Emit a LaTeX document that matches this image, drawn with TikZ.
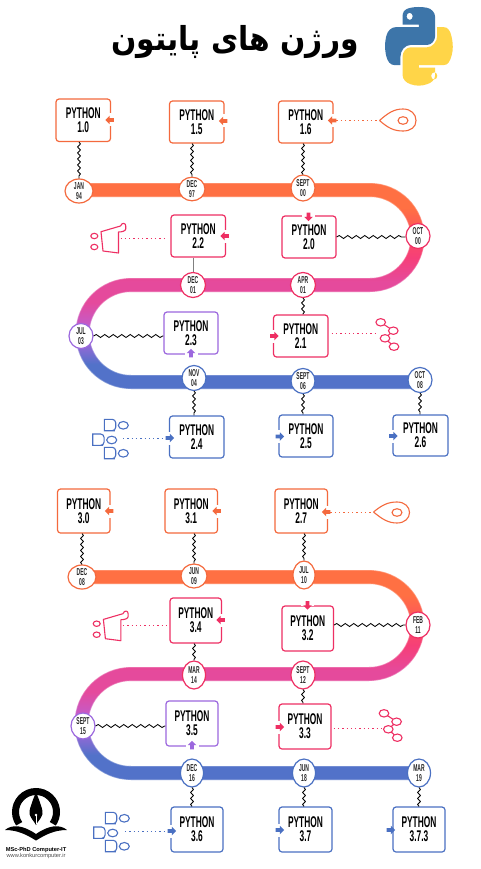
\documentclass[tikz,border=0pt]{standalone}
\usepackage{fontspec}
\usetikzlibrary{shapes.geometric,shapes.arrows,decorations.pathmorphing,svg.path,calc}
\TeXXeTstate=1
\newfontfamily\arabicfont[Script=Arabic,FakeStretch=0.9]{DejaVu Sans}
\newfontfamily\pyfont[FakeStretch=0.54]{Liberation Sans}
\newfontfamily\dtfont[FakeStretch=0.5]{Liberation Sans}
\setsansfont{Liberation Sans}
\definecolor{cor}{HTML}{F4693D}
\definecolor{cpk}{HTML}{EE2F63}
\definecolor{cpu}{HTML}{9C68DE}
\definecolor{cbl}{HTML}{4A70C2}
\definecolor{rbl}{HTML}{5272C9}
\definecolor{rpb}{HTML}{8A6AD4}
\definecolor{rpu}{HTML}{BA60D6}
\definecolor{rmg}{HTML}{E54A9C}
\definecolor{rpk}{HTML}{F63F78}
\definecolor{rrd}{HTML}{FC4E60}
\definecolor{ror}{HTML}{FF7043}
\definecolor{pyb}{HTML}{3D75A9}
\definecolor{pyy}{HTML}{FFD548}
\pgfdeclareverticalshading{ribbonsh}{100bp}{color(0bp)=(rbl); color(31bp)=(rbl); color(35bp)=(rpb); color(39bp)=(rpu); color(46bp)=(rmg); color(51bp)=(rmg); color(57bp)=(rpk); color(62bp)=(rrd); color(69bp)=(ror); color(100bp)=(ror)}
\tikzset{
 pybox/.style={draw=#1,fill=white,rectangle,rounded corners=3pt,line width=1.2pt,inner sep=0pt,align=center,
   font=\pyfont\bfseries\fontsize{15.5}{14}\selectfont},
 dtnode/.style={draw=#1,fill=white,ellipse,line width=1.2pt,inner sep=0pt,align=center,
   font=\dtfont\bfseries\fontsize{10}{9.6}\selectfont,text=black!85},
 wvv/.style={decorate,decoration={snake,amplitude=1.4pt,segment length=6pt},line width=.85pt,black},
 wvh/.style={decorate,decoration={snake,amplitude=1.5pt,segment length=8.5pt},line width=.85pt,black},
 dots/.style={draw=#1,line width=.9pt,dash pattern=on 1.3pt off 3pt},
 tipnode/.style={single arrow,fill=#1,inner xsep=0pt,inner ysep=1.6pt,minimum height=8.5pt,minimum width=8.5pt,single arrow head extend=2.2pt,single arrow tip angle=90},
 gapnode/.style={fill=white,inner sep=0pt,minimum width=3.5pt,minimum height=13pt},
 ico/.style={draw=#1,line width=1.1pt,fill=none},
 ribedge/.style={draw=white,draw opacity=.3,line width=1.2pt},
}
\newcommand{\pybx}[7]{\node[pybox=#6,minimum width={(#4-#2)*1pt},minimum height={(#5-#3)*1pt}] (#1) at ({(#2+#4)/2},{(#3+#5)/2}) {PYTHON\\#7};}
\newcommand{\pydt}[7]{\node[dtnode=#6,minimum width={2*#4*1pt},minimum height={2*#5*1pt}] (#1) at (#2,#3) {#7};}
\newcommand{\pyar}[5]{\node[gapnode,rotate=#4] at (#2,#3) {};\node[tipnode=#5,rotate=#4] (#1) at (#2,#3) {};}
\def\ribA{(78,183) -- (370,183) .. controls (400.1,183) and (424.5,207.4) .. (424.5,237.5) .. controls (424.5,267.6) and (400.1,292) .. (370,292) -- (131,292) .. controls (108.1,292) and (89.5,310.6) .. (89.5,333.5) .. controls (89.5,356.4) and (108.1,375) .. (131,375) -- (420,375) -- (420,389) -- (131,389) .. controls (100.3,389) and (75.5,364.2) .. (75.5,333.5) .. controls (75.5,302.8) and (100.3,278) .. (131,278) -- (370,278) .. controls (392.4,278) and (410.5,259.9) .. (410.5,237.5) .. controls (410.5,215.1) and (392.4,197) .. (370,197) -- (78,197) -- cycle}
\def\ribB{(82,570) -- (369,570) .. controls (399.7,570) and (424.5,594.8) .. (424.5,625.5) .. controls (424.5,656.2) and (399.7,681) .. (369,681) -- (131,681) .. controls (107.5,681) and (88.5,700) .. (88.5,723.5) .. controls (88.5,747) and (107.5,766) .. (131,766) -- (420,766) -- (420,780) -- (131,780) .. controls (99.8,780) and (74.5,754.7) .. (74.5,723.5) .. controls (74.5,692.3) and (99.8,667) .. (131,667) -- (369,667) .. controls (391.9,667) and (410.5,648.4) .. (410.5,625.5) .. controls (410.5,602.6) and (391.9,584) .. (369,584) -- (82,584) -- cycle}
\begin{document}
\begin{tikzpicture}[x=1pt,y=-1pt]
\useasboundingbox (0,0) rectangle (480,869);
\fill[white] (0,0) rectangle (480,869);
% ribbons
\shade[shading=ribbonsh] \ribA;
\draw[ribedge] \ribA;
\shade[shading=ribbonsh] \ribB;
\draw[ribedge] \ribB;
% title
\node[font=\arabicfont\bfseries\fontsize{33}{40}\selectfont,inner sep=0pt] (title) at (235,42) {\beginR ورژن های پایتون\endR};
% python logo
\begin{scope}[shift={(385,7)},xscale=.61,yscale=-.70]
\fill[pyb,even odd rule] svg {M 54.918785,0.0009 C 50.335132,0.02221727 45.957846,0.41313697 42.106285,1.0946693 30.760069,3.0991731 28.700036,7.2947714 28.700035,15.032169 v 10.21875 h 26.8125 v 3.40625 h -26.8125 -10.0625 c -7.792459,0 -14.6157588,4.683717 -16.7499998,13.59375 -2.46181998,10.212966 -2.57101508,16.586023 0,27.25 1.9059283,7.937852 6.4575432,13.593748 14.2499998,13.59375 h 9.21875 v -12.25 c 0,-8.849902 7.657144,-16.656248 16.75,-16.65625 h 26.78125 c 7.454951,0 13.406253,-6.138164 13.40625,-13.625 v -25.53125 c 0,-7.2663386 -6.12998,-12.7247771 -13.40625,-13.9374997 C 64.281548,0.32794397 59.502438,-0.02037903 54.918785,0.0009 Z m -14.5,8.21875 c 2.769547,0 5.03125,2.2986456 5.03125,5.1249996 0,2.816336 -2.261703,5.09375 -5.03125,5.09375 -2.779476,0 -5.03125,-2.277415 -5.03125,-5.09375 0,-2.826353 2.251774,-5.1249996 5.03125,-5.1249996 Z};
\fill[pyy,even odd rule] svg {M 85.637535,28.657169 v 11.90625 c 0,9.230755 -7.825895,16.999999 -16.75,17 h -26.78125 c -7.335833,0 -13.406249,6.278483 -13.40625,13.625 v 25.531247 c 0,7.266344 6.318588,11.540324 13.40625,13.625004 8.487331,2.49561 16.626237,2.94663 26.78125,0 6.750155,-1.95439 13.406253,-5.88761 13.40625,-13.625004 v -10.21875 h -26.78125 v -3.40625 h 26.78125 13.406254 c 7.792461,0 10.696251,-5.435408 13.406241,-13.59375 2.79933,-8.398886 2.68022,-16.475776 0,-27.25 -1.92578,-7.757441 -5.60387,-13.59375 -13.406241,-13.59375 Z m -15.0625,64.65625 c 2.779478,0 5.03125,2.277417 5.03125,5.093747 0,2.826354 -2.251775,5.125004 -5.03125,5.125004 -2.76955,0 -5.03125,-2.29865 -5.03125,-5.125004 0,-2.81633 2.2617,-5.093747 5.03125,-5.093747 Z};
\end{scope}
% boxes group 1
\pybx{b10}{56}{99}{110.5}{141.5}{cor}{1.0}
\pybx{b15}{169.5}{101}{224}{143}{cor}{1.5}
\pybx{b16}{278.5}{101}{333}{143}{cor}{1.6}
\pybx{b22}{171}{215}{225.5}{257}{cpk}{2.2}
\pybx{b20}{282}{216}{336}{258}{cpk}{2.0}
\pybx{b23}{164}{312}{218}{354}{cpu}{2.3}
\pybx{b21}{273.5}{315}{328}{357}{cpk}{2.1}
\pybx{b24}{169.5}{416}{224}{458}{cbl}{2.4}
\pybx{b25}{279}{415}{333}{457}{cbl}{2.5}
\pybx{b26}{393}{415}{448}{456}{cbl}{2.6}
% boxes group 2
\pybx{b30}{57.5}{489}{110}{533}{cor}{3.0}
\pybx{b31}{165}{489}{217.5}{533}{cor}{3.1}
\pybx{b27}{275}{489}{327.5}{533}{cor}{2.7}
\pybx{b34}{170}{598}{221.5}{643}{cpk}{3.4}
\pybx{b32}{282}{606}{333.5}{651}{cpk}{3.2}
\pybx{b35}{166}{701}{218}{746}{cpu}{3.5}
\pybx{b33}{279}{704}{331}{749}{cpk}{3.3}
\pybx{b36}{171}{807}{223}{852}{cbl}{3.6}
\pybx{b37}{279}{807}{332}{852}{cbl}{3.7}
\pybx{b373}{393}{807}{445}{852}{cbl}{3.7.3}
% dates group 1
\pydt{d1}{79}{191}{14}{12}{cor}{JAN\\94}
\pydt{d2}{192}{189}{13}{11}{cor}{DEC\\97}
\pydt{d3}{303}{188}{12}{13}{cor}{SEPT\\00}
\pydt{d4}{418}{236}{12}{12.5}{cpk}{OCT\\00}
\pydt{d5}{193}{285}{12.5}{12.5}{cpk}{DEC\\01}
\pydt{d6}{303}{285}{12.5}{12.5}{cpk}{APR\\01}
\pydt{d7}{81}{336}{12}{12.5}{cpu}{JUL\\03}
\pydt{d8}{194}{378}{12}{12.5}{cbl}{NOV\\04}
\pydt{d9}{303}{381}{12}{12.5}{cbl}{SEPT\\06}
\pydt{d10}{420}{380}{12}{12.5}{cbl}{OCT\\08}
% dates group 2
\pydt{f1}{82}{577}{14}{12}{cor}{DEC\\08}
\pydt{f2}{194}{576}{13}{12}{cor}{JUN\\09}
\pydt{f3}{304}{575}{11}{14}{cor}{JUL\\10}
\pydt{f4}{418}{625}{12}{13}{cpk}{FEB\\11}
\pydt{f5}{194}{675}{11.5}{14}{cpk}{MAR\\14}
\pydt{f6}{303}{675}{12}{14}{cpk}{SEPT\\12}
\pydt{f7}{83}{726}{12}{13}{cpu}{SEPT\\15}
\pydt{f8}{192}{773}{11.5}{14}{cbl}{DEC\\16}
\pydt{f9}{304}{773}{11.5}{14}{cbl}{JUN\\18}
\pydt{f10}{419}{773}{11.5}{14}{cbl}{MAR\\19}
% wavy connectors
\draw[wvv] (d1.north |- b10.south) -- (d1.north);
\draw[wvv] (d2.north |- b15.south) -- (d2.north);
\draw[wvv] (d3.north |- b16.south) -- (d3.north);
\draw[wvh] (b20.east) -- (b20.east -| d4.west);
\draw[gray,line width=.8pt] (d5.north |- b22.south) -- (d5.north);
\draw[wvv] (d6.south) -- (d6.south |- b21.north);
\draw[wvh] (d7.east) -- (d7.east -| b23.west);
\draw[wvv] (d8.south) -- (d8.south |- b24.north);
\draw[wvv] (d9.south) -- (d9.south |- b25.north);
\draw[wvv] (d10.south) -- (d10.south |- b26.north);
\draw[wvv] (f1.north |- b30.south) -- (f1.north);
\draw[wvv] (f2.north |- b31.south) -- (f2.north);
\draw[wvv] (f3.north |- b27.south) -- (f3.north);
\draw[wvh] (b32.east |- f4.west) -- (f4.west);
\draw[wvv] (f5.north |- b34.south) -- (f5.north);
\draw[wvv] (f6.south) -- (f6.south |- b33.north);
\draw[wvh] (f7.east) -- (f7.east -| b35.west);
\draw[wvv] (f8.south) -- (f8.south |- b36.north);
\draw[wvv] (f9.south) -- (f9.south |- b37.north);
\draw[wvv] (f10.south) -- (f10.south |- b373.north);
% arrows on boxes
\pyar{a10}{110.5}{120}{180}{cor}
\pyar{a15}{224}{121}{180}{cor}
\pyar{a16}{333}{120.5}{180}{cor}
\pyar{a22}{225.5}{236}{180}{cpk}
\pyar{a20}{308.5}{216}{-90}{cpk}
\pyar{a23}{191}{354}{90}{cpu}
\pyar{a21}{273.5}{336}{0}{cpk}
\pyar{a24}{169}{438}{0}{cbl}
\pyar{a25}{279}{436.5}{0}{cbl}
\pyar{a26}{392.5}{436}{0}{cbl}
\pyar{a30}{110}{511}{180}{cor}
\pyar{a31}{217.5}{511}{180}{cor}
\pyar{a27}{327}{512}{180}{cor}
\pyar{a34}{221.5}{620}{180}{cpk}
\pyar{a32}{307.5}{604.5}{-90}{cpk}
\pyar{a35}{192}{746}{90}{cpu}
\pyar{a33}{279}{727}{0}{cpk}
\pyar{a36}{171}{831}{0}{cbl}
\pyar{a37}{279}{830}{0}{cbl}
\pyar{a373}{390}{830}{0}{cbl}
% pin icons
\coordinate (p1) at (379.5,120.5);
\draw[ico=cor] (p1) .. controls (388,113) and (394,109) .. (403,109) .. controls (411,109) and (416,114) .. (416,120.5) .. controls (416,127) and (411,131) .. (403,131) .. controls (394,131) and (388,128) .. (p1);
\draw[ico=cor] (403,120.5) ellipse [x radius=5,y radius=3.8];
\coordinate (p2) at (373.5,512);
\draw[ico=cor] (p2) .. controls (382,505) and (388,502) .. (397,502) .. controls (405,502) and (409.5,507) .. (409.5,512.5) .. controls (409.5,518) and (405,523) .. (397,523) .. controls (388,523) and (382,519) .. (p2);
\draw[ico=cor] (397,512.5) ellipse [x radius=5,y radius=3.8];
\draw[dots=cor] (a16) -- (p1);
\draw[dots=cor] (a27) -- (p2);
% funnel icons
\begin{scope}[shift={(0,0)}]
\draw[ico=cpk,line join=round] (101,231.7) -- (120.5,226) .. controls (122,222) and (126,223) .. (125.7,226) -- (125.7,229) .. controls (125.5,231) and (122,232) .. (118.5,232) -- (118.5,253) -- (103,251) -- cycle;
\draw[ico=cpk] (94.3,236) ellipse [x radius=3.5,y radius=2.7];
\draw[ico=cpk] (94.3,247) ellipse [x radius=3.5,y radius=2.7];
\coordinate (g1) at (118.5,238);
\end{scope}
\begin{scope}[shift={(2.4,387.7)}]
\draw[ico=cpk,line join=round] (101,231.7) -- (120.5,226) .. controls (122,222) and (126,223) .. (125.7,226) -- (125.7,229) .. controls (125.5,231) and (122,232) .. (118.5,232) -- (118.5,253) -- (103,251) -- cycle;
\draw[ico=cpk] (94.3,236) ellipse [x radius=3.5,y radius=2.7];
\draw[ico=cpk] (94.3,247) ellipse [x radius=3.5,y radius=2.7];
\coordinate (g2) at (118.5,238);
\end{scope}
\draw[dots=cpk,shorten <=2pt,shorten >=4pt] (g1) -- (g1 -| b22.west);
\draw[dots=cpk,shorten <=2pt,shorten >=2pt] (g2) -- (g2 -| b34.west);
% graph icons
\begin{scope}[shift={(0,0)}]
\draw[ico=cpk] (380.7,322.3) -- (393.3,330.7) -- (385,338.3) -- (394,346.7);
\foreach \px/\py in {380.7/322.3,393.3/330.7,385/338.3,394/346.7}{\draw[ico=cpk,fill=white] (\px,\py) ellipse [x radius=4.8,y radius=3.7];}
\coordinate (h1) at (378,333.7);
\end{scope}
\begin{scope}[shift={(3.3,391)}]
\draw[ico=cpk] (380.7,322.3) -- (393.3,330.7) -- (385,338.3) -- (394,346.7);
\foreach \px/\py in {380.7/322.3,393.3/330.7,385/338.3,394/346.7}{\draw[ico=cpk,fill=white] (\px,\py) ellipse [x radius=4.8,y radius=3.7];}
\coordinate (h2) at (378.7,337.7);
\end{scope}
\draw[dots=cpk,shorten <=3pt] (h1 -| b21.east) -- (h1);
\draw[dots=cpk,shorten <=2pt] (h2 -| b33.east) -- (h2);
% block icons
\begin{scope}[shift={(0,0)}]
\foreach \qx/\qy in {104.3/419.3,92.7/434,104.3/447.3}{
 \draw[ico=cbl] (\qx,\qy) -- ++(7,0) [rounded corners=3.5pt] -- ++(4.4,0) -- ++(0,11.4) -- ++(-4.4,0) [sharp corners] -- ++(-7,0) -- cycle;
 \draw[ico=cbl,fill=white] ({\qx+19},{\qy+6}) ellipse [x radius=5,y radius=3.8];}
\coordinate (k1) at (121,438);
\end{scope}
\begin{scope}[shift={(1,393)}]
\foreach \qx/\qy in {104.3/419.3,92.7/434,104.3/447.3}{
 \draw[ico=cbl] (\qx,\qy) -- ++(7,0) [rounded corners=3.5pt] -- ++(4.4,0) -- ++(0,11.4) -- ++(-4.4,0) [sharp corners] -- ++(-7,0) -- cycle;
 \draw[ico=cbl,fill=white] ({\qx+19},{\qy+6}) ellipse [x radius=5,y radius=3.8];}
\coordinate (k2) at (122,438);
\end{scope}
\draw[dots=cbl,shorten <=2pt] (k1) -- (a24);
\draw[dots=cbl,shorten <=2pt] (k2) -- (a36);
% publisher mark
\begin{scope}[shift={(36,812)},y=1pt]
\draw[black,line width=7pt] (215:20.5) arc[start angle=215,end angle=-35,radius=20.5];
\fill[black] (0,20) -- (3.5,11) .. controls (5,6) and (7,2) .. (6.5,-2) .. controls (5,-7) and (2,-9) .. (0,-13) .. controls (-2,-9) and (-5,-7) .. (-6.5,-2) .. controls (-7,2) and (-5,6) .. (-3.5,11) -- cycle;
\draw[white,line width=.7pt] (0,-12) -- (0,-3);
\fill[white] (0,-3) circle (1.3);
\fill[black] (-31,-18) .. controls (-24,-12) and (-13,-13) .. (0,-22) .. controls (13,-13) and (24,-12) .. (31,-18) .. controls (18,-18) and (9,-23) .. (0,-28.5) .. controls (-9,-23) and (-18,-18) .. (-31,-18) -- cycle;
\end{scope}
\node[font=\sffamily\bfseries\fontsize{5.7}{6}\selectfont,inner sep=0pt] (t1) at (36,850) {MSc-PhD Computer-IT};
\node[font=\sffamily\fontsize{5.7}{6}\selectfont,inner sep=0pt,text=black!70] (t2) at (36,856.5) {www.konkurcomputer.ir};
\end{tikzpicture}
\end{document}
